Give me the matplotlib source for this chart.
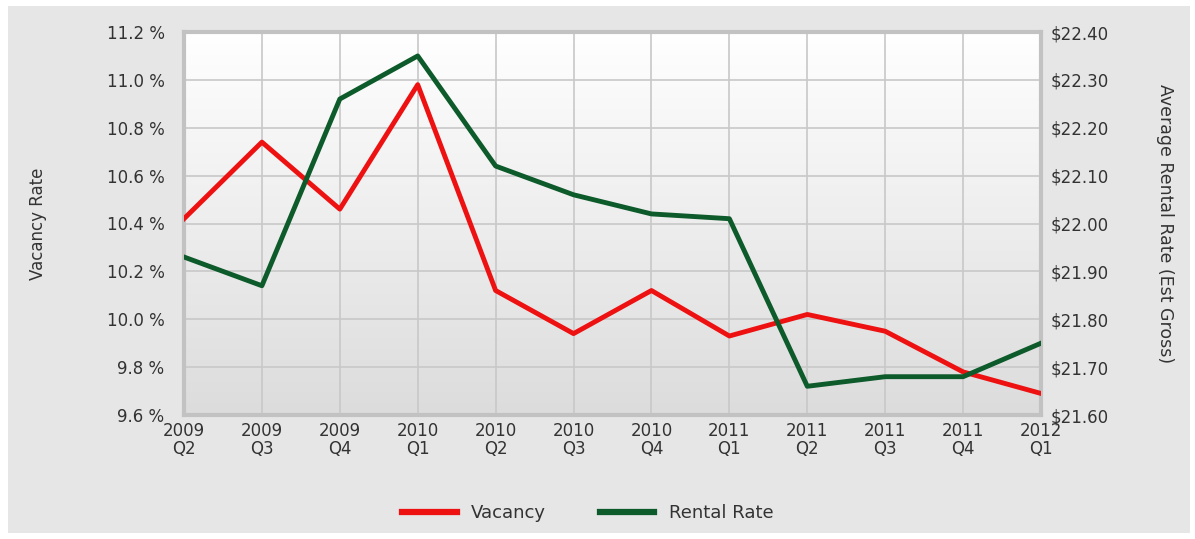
import numpy as np
from matplotlib import pyplot as plt
from matplotlib.patches import Rectangle
from matplotlib.colors import LinearSegmentedColormap

plt.rcParams['font.family'] = ['DejaVu Sans']

quarters = ['2009\nQ2', '2009\nQ3', '2009\nQ4', '2010\nQ1', '2010\nQ2', '2010\nQ3',
            '2010\nQ4', '2011\nQ1', '2011\nQ2', '2011\nQ3', '2011\nQ4', '2012\nQ1']
vacancy = [10.42, 10.74, 10.46, 10.98, 10.12, 9.94, 10.12, 9.93, 10.02, 9.95, 9.78, 9.69]
rental = [21.93, 21.87, 22.26, 22.35, 22.12, 22.06, 22.02, 22.01, 21.66, 21.68, 21.68, 21.75]

vac_ticks = [9.6, 9.8, 10.0, 10.2, 10.4, 10.6, 10.8, 11.0, 11.2]
rent_ticks = [21.6, 21.7, 21.8, 21.9, 22.0, 22.1, 22.2, 22.3, 22.4]

W, H = 1195, 539
txt = '#333333'
fig = plt.figure(figsize=(W / 100, H / 100), dpi=100)
fig.patch.set_facecolor('white')
fig.patches.append(Rectangle((8 / W, 6 / H), 1182 / W, 527 / H, transform=fig.transFigure,
                             facecolor='#e6e6e6', edgecolor='none', zorder=0))

ax = fig.add_axes([184 / W, 1 - 415 / H, (1041 - 184) / W, (415 - 32) / H])
ax.set_zorder(1)
x = np.arange(len(quarters))

# gradient background of the plot area
grad = np.linspace(1.0, 0.0, 256).reshape(-1, 1)
ax.imshow(grad, extent=[0, 1, 0, 1], transform=ax.transAxes, aspect='auto',
          cmap=LinearSegmentedColormap.from_list('g', ['#dcdcdc', '#ffffff']),
          zorder=0, vmin=0, vmax=1)

ax.plot(x, vacancy, color='#ee1111', lw=3.5, zorder=3, label='Vacancy')
ax.set_xlim(0, len(quarters) - 1)
ax.set_ylim(9.6, 11.2)
ax.set_yticks(vac_ticks)
ax.set_yticklabels(['%.1f %%' % v for v in vac_ticks])
ax.set_xticks(x)
ax.set_xticklabels(quarters, linespacing=1.0)
ax.grid(True, color='#c8c8c8', lw=1.2, zorder=1)
ax.set_axisbelow(True)
ax.tick_params(axis='y', length=0, labelsize=12, labelcolor=txt, pad=14)
ax.tick_params(axis='x', length=0, labelsize=12, labelcolor=txt, pad=5)
for s in ax.spines.values():
    s.set_color('#c2c2c2')
    s.set_linewidth(3)
ax.set_ylabel('Vacancy Rate', fontsize=12, color=txt)
ax.yaxis.set_label_coords(-0.16, 0.5)

ax2 = ax.twinx()
ax2.plot(x, rental, color='#0d5a2a', lw=3.5, zorder=3, label='Rental Rate')
ax2.set_ylim(21.6, 22.4)
ax2.set_yticks(rent_ticks)
ax2.set_yticklabels(['$%.2f' % v for v in rent_ticks])
ax2.tick_params(axis='y', length=0, labelsize=12, labelcolor=txt, pad=7)
for s in ax2.spines.values():
    s.set_visible(False)
ax2.set_ylabel('Average Rental Rate (Est Gross)', fontsize=12.5, color=txt, rotation=270,
               va='center')
ax2.yaxis.set_label_coords(1.145, 0.5)

h1, l1 = ax.get_legend_handles_labels()
h2, l2 = ax2.get_legend_handles_labels()
leg = fig.legend(h1 + h2, l1 + l2, loc='center', bbox_to_anchor=(588 / W, 1 - 513 / H),
                 ncol=2, frameon=False, fontsize=13, handlelength=3.0, columnspacing=3.0,
                 labelcolor=txt)
for line in leg.get_lines():
    line.set_linewidth(4.5)

fig.savefig('out.png', dpi=100, facecolor=fig.get_facecolor())
